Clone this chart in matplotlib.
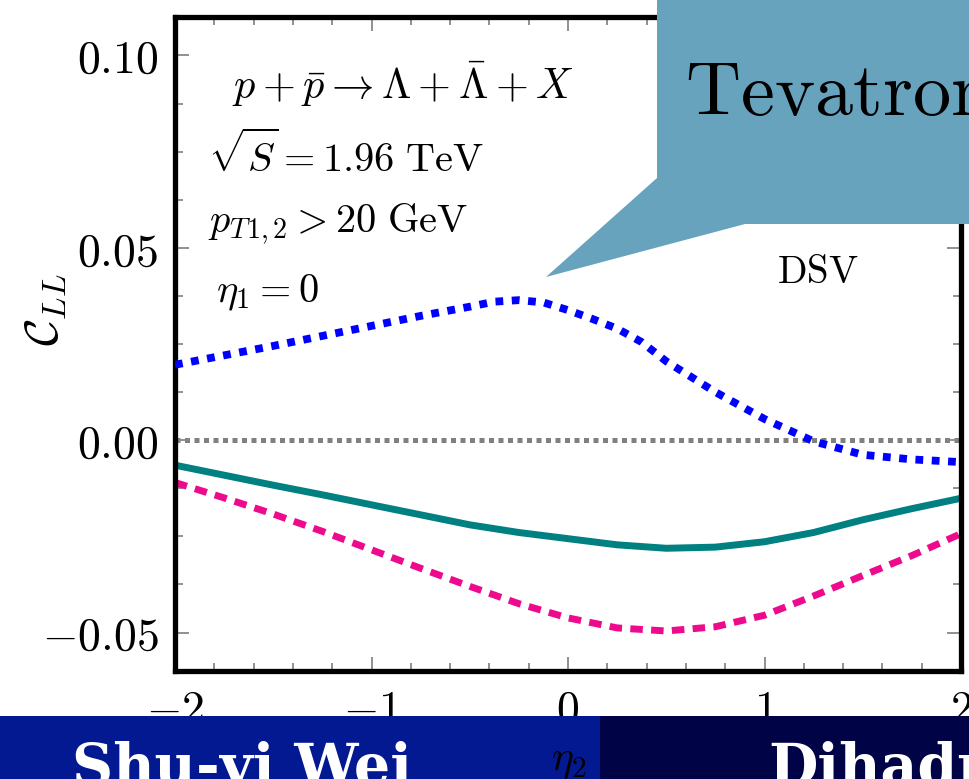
import numpy as np
import matplotlib
matplotlib.use('agg')
import matplotlib.pyplot as plt
from matplotlib.patches import Polygon, Rectangle
from matplotlib.ticker import MultipleLocator, FuncFormatter

plt.rcParams['mathtext.fontset'] = 'cm'

# curves
eta2 = [-2.0, -1.75, -1.5, -1.25, -1.0, -0.75, -0.5, -0.25, 0.0,
        0.25, 0.5, 0.75, 1.0, 1.25, 1.5, 1.75, 2.0]
c_teal = [-0.0065, -0.0091, -0.0117, -0.0142, -0.0168, -0.0194, -0.0220, -0.0240, -0.0256,
          -0.0272, -0.0281, -0.0278, -0.0264, -0.0240, -0.0207, -0.0178, -0.0151]
c_pink = [-0.0110, -0.0150, -0.0192, -0.0237, -0.0285, -0.0333, -0.0380, -0.0425, -0.0462,
          -0.0488, -0.0496, -0.0485, -0.0455, -0.0405, -0.0352, -0.0300, -0.0243]
# blue read more finely around its peak
eta2_blue = [-2.0, -1.5, -1.0, -0.75, -0.5, -0.375, -0.25, -0.125, 0.0, 0.125, 0.25,
             0.375, 0.5, 0.75, 1.0, 1.25, 1.5, 1.75, 2.0]
c_blue = [0.0196, 0.0245, 0.0297, 0.0323, 0.0347, 0.0360, 0.0364, 0.0358, 0.0338, 0.0315, 0.0290,
          0.0255, 0.0205, 0.0125, 0.0055, -0.0003, -0.0038, -0.0050, -0.0057]

W, H = 969, 779
def px(x, y):
    # pixel position (from top left) -> figure fraction
    return x / W, 1 - y / H

fig = plt.figure(figsize=(W / 100, H / 100), dpi=100)
ax = fig.add_axes([175 / W, 1 - 671 / H, (961 - 175) / W, (671 - 17) / H])

ax.axhline(0, color='#808080', lw=3.6, dashes=(1, 0.9), zorder=1)
ax.plot(eta2_blue, c_blue, color='#0000ff', lw=5.6, dashes=(1, 1.1), zorder=3)
ax.plot(eta2, c_teal, color='#008080', lw=5.0, zorder=2)
ax.plot(eta2, c_pink, color='#ee0a8c', lw=5.0, dashes=(1.8, 1.2), zorder=2)

ax.set_xlim(-2, 2)
ax.set_ylim(-0.06, 0.11)
ax.xaxis.set_major_locator(MultipleLocator(1))
ax.xaxis.set_minor_locator(MultipleLocator(0.2))
ax.yaxis.set_major_locator(MultipleLocator(0.05))
ax.yaxis.set_minor_locator(MultipleLocator(0.0125))
ax.xaxis.set_major_formatter(FuncFormatter(lambda v, p: r'$%d$' % round(v)))
ax.yaxis.set_major_formatter(FuncFormatter(lambda v, p: r'$%.2f$' % v if abs(v) > 1e-9 else r'$0.00$'))
ax.tick_params(which='both', direction='in', top=True, right=True, color='#888888', width=1.3)
ax.tick_params(which='major', length=10, labelsize=33, pad=12)
ax.tick_params(which='minor', length=6)
for s in ax.spines.values():
    s.set_linewidth(3.8)

fig.text(*px(45, 310), r'$\mathcal{C}_{LL}$', fontsize=34, rotation=90, ha='center', va='center')

ax.text(*px(232, 99), r'$p+\bar{p}\rightarrow\Lambda+\bar{\Lambda}+X$', transform=fig.transFigure,
        fontsize=30.5, va='baseline')
ax.text(*px(208, 172), r'$\sqrt{S}=1.96\ \mathrm{TeV}$', transform=fig.transFigure, fontsize=29, va='baseline')
ax.text(*px(208, 232), r'$p_{T1,2}>20\ \mathrm{GeV}$', transform=fig.transFigure, fontsize=29, va='baseline')
ax.text(*px(216, 302), r'$\eta_1=0$', transform=fig.transFigure, fontsize=29, va='baseline')
ax.text(*px(777, 283), r'$\mathrm{DSV}$', transform=fig.transFigure, fontsize=28, va='baseline')

# slide overlays: callout box and bottom banner
callout = [(657, 0), (969, 0), (969, 224), (745, 224), (546, 277), (657, 178)]
fig.add_artist(Polygon([px(x, y) for x, y in callout], closed=True, transform=fig.transFigure,
                       facecolor='#67a3bd', edgecolor='none', zorder=5))
fig.text(*px(685, 115), r'$\mathrm{Tevatron}$', fontsize=55, va='baseline', zorder=6)

fig.add_artist(Rectangle(px(0, 779), 600 / W, 63 / H, transform=fig.transFigure,
                         facecolor='#021991', edgecolor='none', zorder=5))
fig.add_artist(Rectangle(px(600, 779), 369 / W, 63 / H, transform=fig.transFigure,
                         facecolor='#000446', edgecolor='none', zorder=5))
fig.text(*px(569, 760), r'$\eta_2$', fontsize=30, ha='center', va='center', zorder=6)
fig.text(*px(72, 785), 'Shu-yi Wei', fontsize=41, family='DejaVu Serif', weight='bold',
         color='white', va='baseline', zorder=6)
fig.text(*px(768, 785), 'Dihadron', fontsize=41, family='DejaVu Serif', weight='bold',
         color='white', va='baseline', zorder=6)

fig.savefig('out.png', dpi=100)
